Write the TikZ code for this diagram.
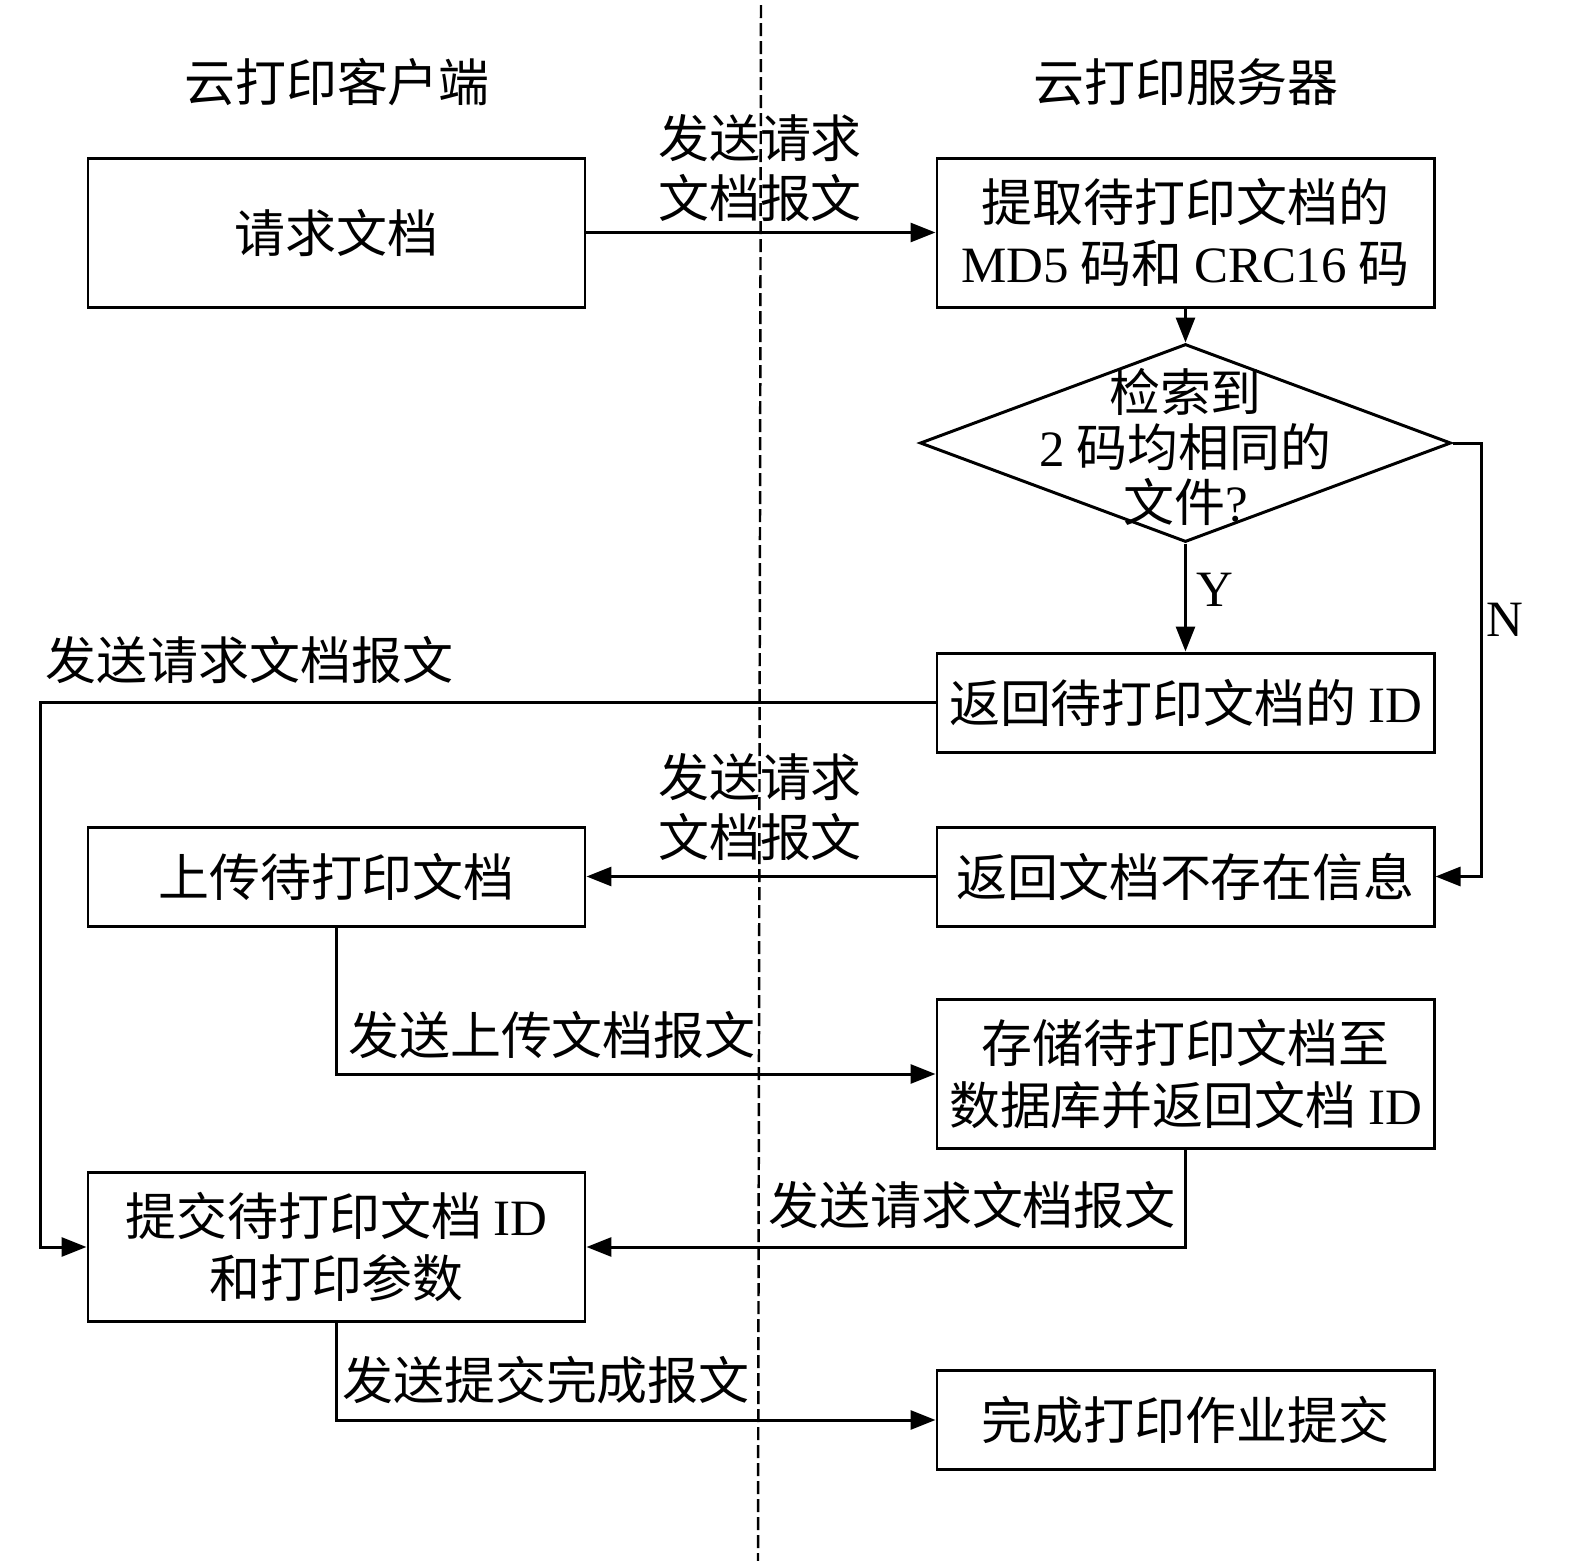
\documentclass[tikz,border=0pt]{standalone}
\usepackage{fontspec}
\setmainfont{Noto Sans CJK SC}
\newfontfamily\tnr{Liberation Serif}
\newcommand{\en}[1]{{\tnr #1}}
\usetikzlibrary{shapes.geometric,arrows.meta}

\tikzset{
  txt/.style={font=\fontsize{14.5}{17.5}\selectfont, align=center, inner sep=0pt},
  box/.style={txt, draw, line width=0.85pt, minimum width=4.97cm, minimum height=0.99cm},
  tallbox/.style={box, minimum height=1.49cm},
  arr/.style={line width=0.85pt, -{Triangle[length=0.25cm,width=0.19cm]}},
}

\begin{document}
\begin{tikzpicture}
  \useasboundingbox (0,0) rectangle (15.75,-15.61);

  % 分隔线
  \draw[line width=0.7pt, dash pattern=on 0.13cm off 0.05cm] (7.61,-0.05) -- (7.58,-15.61);

  % 标题
  \node[txt] (tcli) at (3.37,-0.82) {云打印客户端};
  \node[txt] (tsrv) at (11.86,-0.82) {云打印服务器};

  % 客户端
  \node[tallbox] (l1) at (3.365,-2.325) {请求文档};
  \node[box] (l2) at (3.365,-8.765) {上传待打印文档};
  \node[tallbox] (l3) at (3.365,-12.47) {提交待打印文档 \en{ID}\\和打印参数};

  % 服务器
  \node[tallbox] (r1) at (11.855,-2.325) {提取待打印文档的\\\en{MD5} 码和 \en{CRC16} 码};
  \node[diamond, draw, line width=0.85pt, minimum width=5.31cm, minimum height=1.98cm, inner sep=0pt] (d) at (11.855,-4.43) {};
  \node[txt, font=\fontsize{14.5}{15.6}\selectfont] (dtxt) at (11.855,-4.47) {检索到\\\en{2} 码均相同的\\文件\en{?}};
  \node[box] (r2) at (11.855,-7.025) {返回待打印文档的 \en{ID}};
  \node[box] (r3) at (11.855,-8.765) {返回文档不存在信息};
  \node[tallbox] (r4) at (11.855,-10.74) {存储待打印文档至\\数据库并返回文档 \en{ID}};
  \node[box] (r5) at (11.855,-14.20) {完成打印作业提交};

  % 连线
  \draw[arr] (l1) -- (r1);
  \draw[arr] (r1) -- (d);
  \draw[arr] (d) -- (r2);
  \draw[arr] (d.east) -- ++(0.29,0) |- (r3.east);
  \draw[arr] (r3) -- (l2);
  \draw[arr] (r2.west) -| ([xshift=-4.6mm]l3.west) -- (l3.west);
  \draw[arr] (l2.south) |- (r4.west);
  \draw[arr] (r4.south) |- (l3.east);
  \draw[arr] (l3.south) |- (r5.west);

  % 标签
  \node[txt, font=\fontsize{14.5}{17}\selectfont] (m1) at (7.60,-1.68) {发送请求\\文档报文};
  \node[txt, font=\fontsize{14.5}{17}\selectfont] (m2) at (7.60,-8.07) {发送请求\\文档报文};
  \node[txt, anchor=west] (m3) at (0.45,-6.60) {发送请求文档报文};
  \node[txt] (m4) at (5.52,-10.35) {发送上传文档报文};
  \node[txt] (m5) at (9.72,-12.05) {发送请求文档报文};
  \node[txt] (m6) at (5.46,-13.80) {发送提交完成报文};
  \node[txt] (yes) at (12.15,-5.90) {\en{Y}};
  \node[txt] (no) at (15.05,-6.20) {\en{N}};
\end{tikzpicture}
\end{document}
